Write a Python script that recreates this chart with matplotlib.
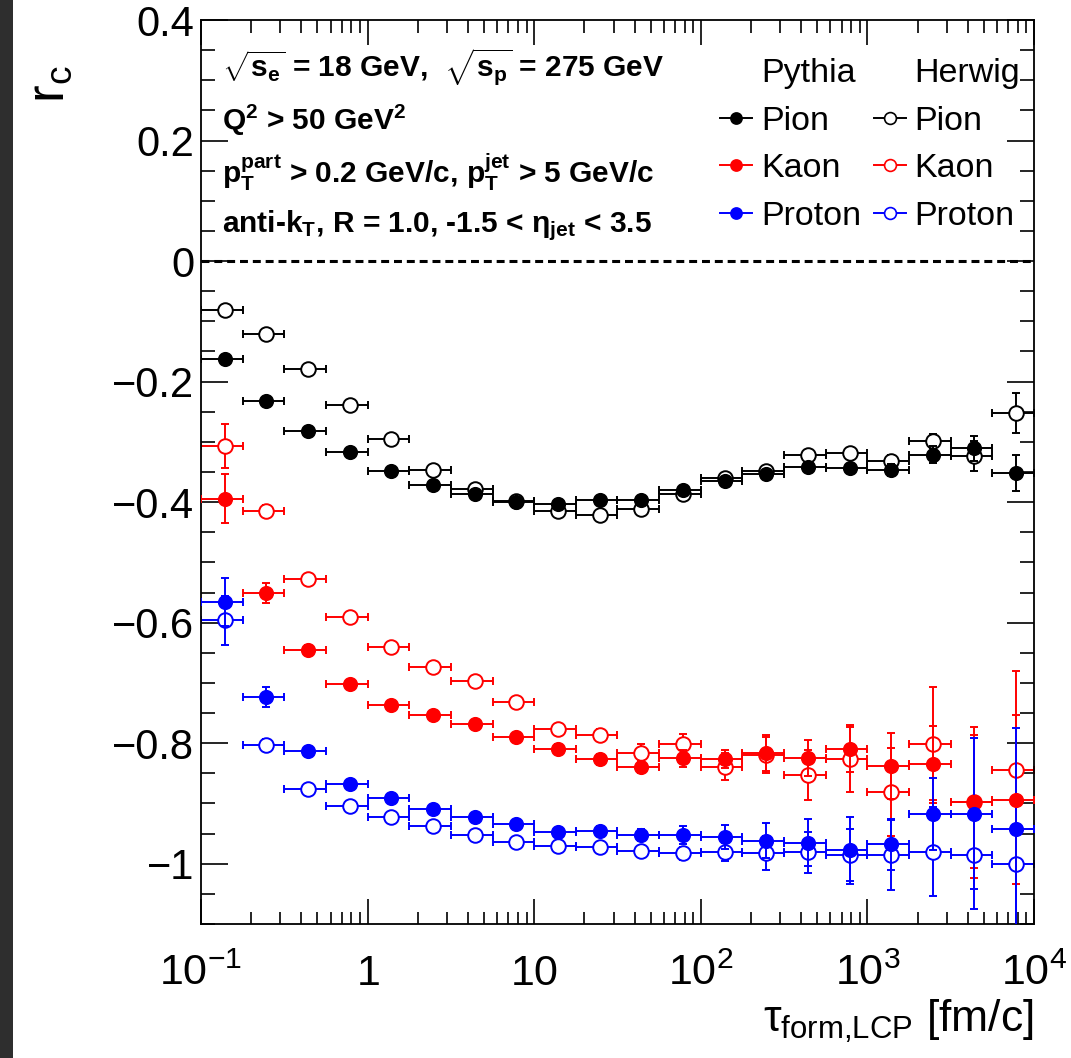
import matplotlib
matplotlib.use('Agg')
import matplotlib.pyplot as plt
import numpy as np
from matplotlib.lines import Line2D
from matplotlib.patches import Rectangle
from matplotlib.ticker import FixedLocator, MultipleLocator, FuncFormatter, NullFormatter

plt.rcParams['font.family'] = ['Liberation Sans', 'DejaVu Sans']
plt.rcParams['mathtext.fontset'] = 'custom'
plt.rcParams['mathtext.rm'] = 'Liberation Sans'
plt.rcParams['mathtext.it'] = 'Liberation Sans'
plt.rcParams['mathtext.bf'] = 'Liberation Sans:bold'

# ---------------- data ----------------
bin_edges = [0.1, 0.1778, 0.3162, 0.5623, 1.0, 1.778, 3.162, 5.623, 10.0, 17.78, 31.62,
             56.23, 100.0, 177.8, 316.2, 562.3, 1000.0, 1778.0, 3162.0, 5623.0, 10000.0]

pythia_pion = [-0.163, -0.232, -0.282, -0.316, -0.349, -0.371, -0.387, -0.399, -0.403, -0.396,
               -0.396, -0.380, -0.365, -0.354, -0.341, -0.344, -0.346, -0.321, -0.311, -0.352]
pythia_pion_err = [0.006, 0.005, 0.004, 0.004, 0.004, 0.004, 0.004, 0.004, 0.004, 0.005,
                   0.005, 0.005, 0.005, 0.006, 0.007, 0.008, 0.010, 0.014, 0.020, 0.030]
herwig_pion = [-0.082, -0.121, -0.179, -0.238, -0.296, -0.346, -0.378, -0.398, -0.414, -0.421,
               -0.411, -0.386, -0.360, -0.348, -0.321, -0.318, -0.332, -0.299, -0.324, -0.252]
herwig_pion_err = [0.006, 0.005, 0.004, 0.004, 0.004, 0.004, 0.004, 0.004, 0.004, 0.005,
                   0.005, 0.005, 0.006, 0.007, 0.008, 0.008, 0.010, 0.012, 0.025, 0.033]

pythia_kaon = [-0.394, -0.551, -0.645, -0.702, -0.737, -0.754, -0.768, -0.790, -0.810, -0.827,
               -0.839, -0.825, -0.826, -0.816, -0.824, -0.809, -0.838, -0.835, -0.898, -0.894]
pythia_kaon_err = [0.041, 0.017, 0.008, 0.007, 0.006, 0.006, 0.006, 0.007, 0.008, 0.009,
                   0.010, 0.014, 0.015, 0.030, 0.030, 0.039, 0.055, 0.064, 0.125, 0.140]
herwig_kaon = [-0.307, -0.415, -0.528, -0.590, -0.641, -0.673, -0.696, -0.731, -0.777, -0.787,
               -0.816, -0.802, -0.839, -0.819, -0.853, -0.827, -0.881, -0.801, -0.897, -0.845]
herwig_kaon_err = [0.036, 0.010, 0.006, 0.006, 0.006, 0.006, 0.006, 0.007, 0.008, 0.010,
                   0.015, 0.018, 0.022, 0.030, 0.042, 0.054, 0.073, 0.094, 0.110, 0.164]

pythia_proton = [-0.566, -0.723, -0.813, -0.867, -0.891, -0.909, -0.923, -0.934, -0.947, -0.945,
                 -0.952, -0.953, -0.955, -0.962, -0.965, -0.978, -0.968, -0.918, -0.917, -0.942]
pythia_proton_err = [0.040, 0.017, 0.006, 0.005, 0.005, 0.005, 0.005, 0.005, 0.006, 0.007,
                     0.010, 0.015, 0.020, 0.029, 0.039, 0.055, 0.043, 0.060, 0.125, 0.168]
herwig_proton = [-0.596, -0.803, -0.876, -0.905, -0.923, -0.938, -0.953, -0.964, -0.970, -0.973,
                 -0.979, -0.983, -0.981, -0.982, -0.981, -0.985, -0.985, -0.980, -0.985, -1.000]
herwig_proton_err = [0.041, 0.010, 0.006, 0.005, 0.005, 0.005, 0.005, 0.005, 0.006, 0.007,
                     0.008, 0.010, 0.015, 0.028, 0.034, 0.043, 0.058, 0.074, 0.090, 0.150]

x_tick_values = [0.1, 1, 10, 100, 1000, 10000]
x_tick_labels = [r'$\mathregular{10^{-1}}$', r'$\mathregular{1}$', r'$\mathregular{10}$',
                 r'$\mathregular{10^{2}}$', r'$\mathregular{10^{3}}$', r'$\mathregular{10^{4}}$']

# ---------------- figure ----------------
W, H = 1071, 1058
fig = plt.figure(figsize=(W / 100, H / 100), dpi=100)
fig.patches.append(Rectangle((0, 0), 13 / W, 1, transform=fig.transFigure,
                             facecolor='#2e2e2e', edgecolor='none', zorder=-5))
ax_l, ax_r, ax_t, ax_b = 201, 1034, 20, 924
ax = fig.add_axes([ax_l / W, 1 - ax_b / H, (ax_r - ax_l) / W, (ax_b - ax_t) / H])

edges = np.array(bin_edges)
lo = edges[:-1]
hi = edges[1:]
xc = 0.5 * (lo + hi)
xerr = [xc - lo, hi - xc]

ax.axhline(0, color='black', lw=2.2, ls=(0, (2.6, 1.6)), zorder=1)


def draw(vals, errs, color, filled, z):
    ax.errorbar(xc, vals, yerr=errs, xerr=xerr, fmt='none', ecolor=color,
                elinewidth=1.4, capsize=3.2, capthick=1.4, zorder=z)
    ax.plot(xc, vals, ls='none', marker='o', ms=9.5 if filled else 10.5,
            mfc=color if filled else 'white', mec=color, mew=1.4, zorder=z + 0.5)


draw(herwig_pion, herwig_pion_err, 'black', False, 2)
draw(herwig_kaon, herwig_kaon_err, 'red', False, 2)
draw(herwig_proton, herwig_proton_err, 'blue', False, 2)
draw(pythia_pion, pythia_pion_err, 'black', True, 3)
draw(pythia_kaon, pythia_kaon_err, 'red', True, 3)
draw(pythia_proton, pythia_proton_err, 'blue', True, 3)

ax.set_xscale('log')
ax.set_xlim(0.1, 1e4)
ax.set_ylim(-1.1, 0.4)

minor_x = [m * 10.0 ** e for e in range(-1, 4) for m in range(2, 10)]
ax.xaxis.set_minor_locator(FixedLocator(minor_x))
ax.xaxis.set_minor_formatter(NullFormatter())
ax.yaxis.set_major_locator(MultipleLocator(0.2))
ax.yaxis.set_minor_locator(MultipleLocator(0.05))


def yfmt(v, pos):
    if abs(v) < 1e-9:
        return '0'
    if abs(v + 1) < 1e-9:
        return '\u22121'
    return f'{v:.1f}'.replace('-', '\u2212')


ax.yaxis.set_major_formatter(FuncFormatter(yfmt))

for s in ax.spines.values():
    s.set_linewidth(1.3)
ax.tick_params(which='both', direction='in', top=True, right=True, width=1.2)
ax.tick_params(axis='y', which='major', length=19.5, labelsize=30, pad=5)
ax.tick_params(axis='y', which='minor', length=10)
ax.tick_params(axis='x', which='major', length=18, labelsize=31, pad=44)
ax.tick_params(axis='x', which='minor', length=9)
ax.set_xticks(x_tick_values, x_tick_labels, va='baseline')

ax.set_xlabel(r'$\mathregular{\tau_{form{,}LCP}}$ [fm/c]', fontsize=32, loc='right')
ax.xaxis.set_label_coords(1.0, -0.082)
ax.set_ylabel(r'$\mathregular{r_{c}}$', fontsize=38, loc='top')
ax.yaxis.set_label_coords(-0.152, 0.95)

# ---------------- annotation text ----------------
def yax(px):
    return 1 - (px - ax_t) / (ax_b - ax_t)


x0 = (222 - ax_l) / (ax_r - ax_l)
lines = [
    (r'$\mathregular{\sqrt{s_{e}}}$ = 18 GeV,  $\mathregular{\sqrt{s_{p}}}$ = 275 GeV', 77),
    (r'$\mathregular{Q^{2}}$ > 50 GeV$\mathregular{^{2}}$', 130),
    (r'$\mathregular{p_{T}^{part}}$ > 0.2 GeV/c, $\mathregular{p_{T}^{jet}}$ > 5 GeV/c', 183),
    (r'anti-$\mathregular{k_{T}}$, R = 1.0, -1.5 < $\mathregular{\eta_{jet}}$ < 3.5', 232),
]
for txt, b in lines:
    ax.text(x0, yax(b), txt, transform=ax.transAxes, fontsize=21.5, fontweight='bold',
            ha='left', va='baseline')

# ---------------- legend ----------------
blank = Line2D([], [], color='none')
def h(color, filled):
    return Line2D([], [], color=color, lw=1.4, marker='o', ms=8 if filled else 8.5,
                  mfc=color if filled else 'white', mec=color, mew=1.2)

handles = [blank, h('black', True), h('red', True), h('blue', True),
           blank, h('black', False), h('red', False), h('blue', False)]
labels = ['Pythia', 'Pion', 'Kaon', 'Proton', 'Herwig', 'Pion', 'Kaon', 'Proton']
ax.legend(handles, labels, ncol=2, loc='upper left',
          bbox_to_anchor=((720 - ax_l) / (ax_r - ax_l), yax(58)),
          frameon=False, fontsize=24.5, handlelength=0.95, handletextpad=0.25,
          columnspacing=0.38, labelspacing=0.49, borderpad=0, borderaxespad=0)

fig.savefig('out.png', dpi=100)
